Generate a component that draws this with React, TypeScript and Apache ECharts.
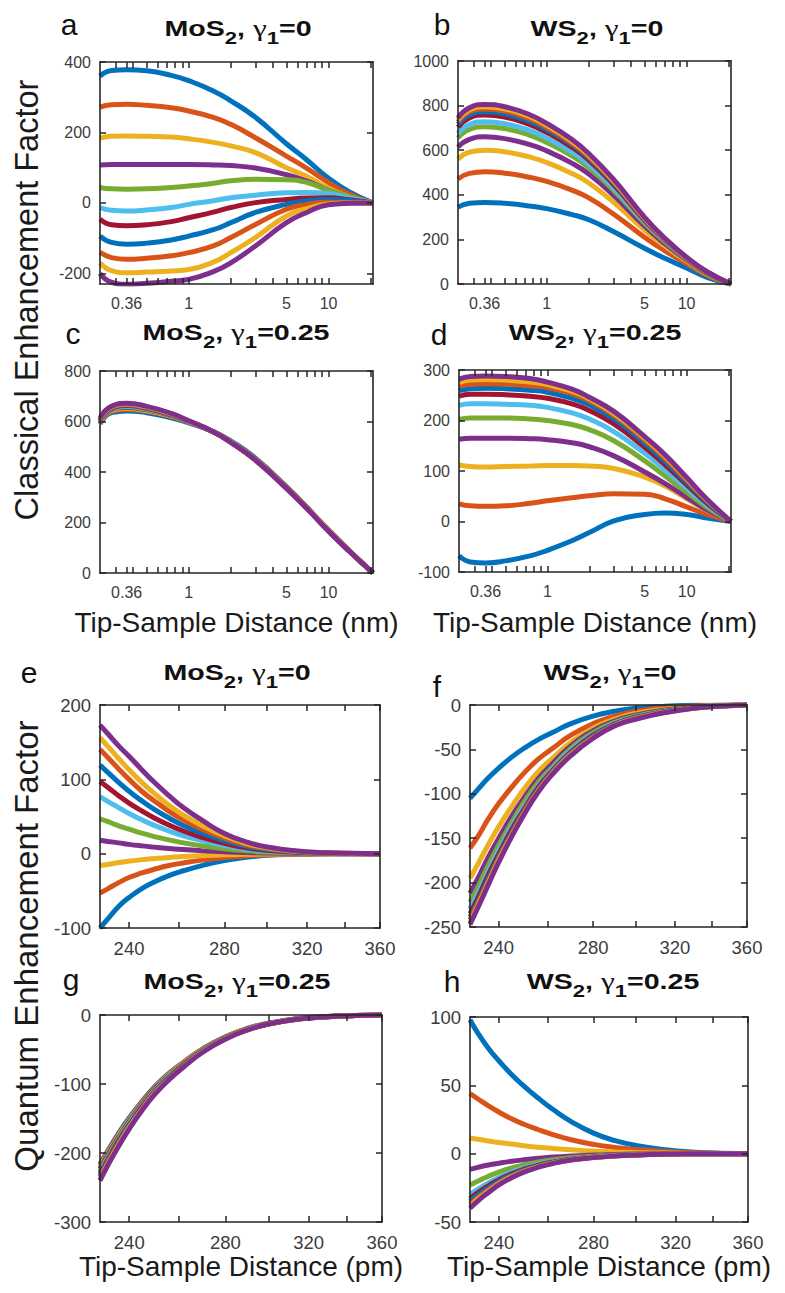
import React, { useEffect, useRef } from "react";
import * as echarts from "echarts";

// MATLAB default line colours, 11 curves per panel
const COLORS = ["#0072BD", "#D95319", "#EDB120", "#7E2F8E", "#77AC30", "#4DBEEE", "#A2142F", "#0072BD", "#D95319", "#EDB120", "#7E2F8E"];

// x samples (nm for classical, pm for quantum)
const CLASSICAL_X = [0.232, 0.28, 0.36, 0.5, 0.75, 1, 1.5, 2, 3, 5, 7, 10, 14, 20.8];
const QUANTUM_X = [229, 232, 236, 240, 245, 250, 256, 262, 270, 280, 290, 300, 315, 330, 345, 360];

const CLASSICAL_X_TICKS = [0.3, 0.36, 0.4, 0.5, 0.6, 0.7, 0.8, 0.9, 1, 2, 3, 4, 5, 6, 7, 8, 9, 10, 20];
const CLASSICAL_X_LABELS = [0.36, 1, 5, 10];
const QUANTUM_X_TICKS = [240, 260, 280, 300, 320, 340, 360];
const QUANTUM_X_LABELS = [240, 280, 320, 360];

// (a) MoS2, gamma1 = 0, classical
const CLASSICAL_MOS2_G0 = [
  [360, 376, 378, 375, 362, 347, 318, 290, 243, 168, 122, 70, 32, 0],
  [272, 279, 280, 277, 270, 261, 243, 223, 185, 133, 98, 58, 25, 0],
  [184, 189, 190, 189, 187, 182, 172, 162, 143, 100, 75, 42, 18, 0],
  [108, 109, 109, 109, 109, 109, 108, 106, 99, 80, 62, 36, 16, 0],
  [44, 40, 39, 40, 44, 48, 56, 63, 67, 66, 58, 36, 18, 0],
  [-13, -21, -23, -20, -13, -4, 6, 15, 22, 29, 30, 27, 14, 0],
  [-46, -62, -65, -62, -53, -42, -26, -13, 1, 10, 14, 15, 9, 0],
  [-94, -112, -117, -114, -105, -94, -76, -56, -27, -4, 6, 10, 6, 0],
  [-140, -155, -160, -157, -150, -141, -122, -98, -61, -18, -4, 2, 1, 0],
  [-170, -192, -198, -196, -193, -189, -168, -141, -98, -37, -16, -3, 0, 0],
  [-200, -225, -231, -228, -222, -217, -195, -170, -122, -56, -27, -5, -1, 0],
];

// (b) WS2, gamma1 = 0, classical
const CLASSICAL_WS2_G0 = [
  [345, 362, 366, 362, 350, 338, 312, 288, 235, 160, 115, 72, 30, 0],
  [471, 496, 503, 497, 479, 460, 422, 386, 314, 210, 149, 92, 39, 0],
  [560, 591, 600, 593, 570, 545, 497, 453, 367, 242, 170, 103, 45, 0],
  [614, 649, 660, 652, 626, 597, 543, 493, 398, 260, 181, 109, 48, 0],
  [655, 693, 705, 697, 668, 635, 576, 522, 421, 274, 190, 113, 50, 0],
  [676, 715, 728, 719, 689, 654, 593, 537, 432, 280, 194, 115, 52, 0],
  [703, 744, 758, 749, 716, 680, 615, 556, 447, 287, 198, 117, 52, 0],
  [716, 758, 772, 763, 729, 692, 627, 566, 455, 292, 201, 119, 53, 0],
  [727, 771, 785, 776, 741, 702, 634, 571, 459, 293, 201, 118, 54, 0],
  [736, 780, 795, 786, 751, 711, 642, 578, 464, 297, 203, 119, 54, 0],
  [745, 790, 805, 795, 760, 720, 650, 585, 470, 300, 205, 120, 55, 0],
];

// (c) MoS2, gamma1 = 0.25, classical
const CLASSICAL_MOS2_G025 = [
  [590, 635, 642, 635, 615, 595, 560, 523, 455, 342, 260, 170, 90, 0],
  [595, 640, 648, 640, 619, 597, 560, 521, 452, 340, 259, 169, 89, 0],
  [598, 643, 652, 643, 621, 598, 559, 520, 451, 339, 258, 169, 89, 0],
  [600, 646, 655, 646, 623, 599, 559, 519, 450, 338, 258, 168, 89, 0],
  [602, 648, 658, 648, 625, 600, 559, 519, 450, 338, 257, 168, 88, 0],
  [604, 650, 660, 650, 626, 600, 559, 519, 449, 337, 257, 168, 88, 0],
  [606, 652, 663, 652, 627, 601, 559, 518, 449, 337, 257, 167, 88, 0],
  [608, 654, 665, 654, 628, 601, 559, 518, 448, 336, 256, 167, 88, 0],
  [610, 656, 667, 656, 629, 602, 559, 518, 448, 336, 256, 167, 88, 0],
  [612, 658, 670, 658, 631, 602, 559, 517, 447, 335, 256, 167, 87, 0],
  [614, 660, 672, 660, 632, 603, 559, 517, 447, 335, 255, 166, 87, 0],
];

// (d) WS2, gamma1 = 0.25, classical
const CLASSICAL_WS2_G025 = [
  [-68, -80, -82, -78, -68, -57, -38, -22, 1, 14, 17, 14, 7, 0],
  [35, 31, 30, 31, 36, 41, 47, 51, 55, 54, 45, 29, 14, 0],
  [112, 109, 108, 109, 110, 111, 111, 110, 105, 88, 70, 45, 22, 0],
  [163, 165, 165, 165, 164, 162, 156, 148, 130, 98, 75, 48, 23, 0],
  [202, 205, 205, 205, 203, 200, 192, 182, 160, 120, 90, 58, 28, 0],
  [230, 233, 233, 232, 230, 226, 215, 203, 178, 135, 102, 66, 32, 0],
  [248, 252, 252, 251, 248, 244, 233, 220, 193, 147, 112, 73, 36, 0],
  [259, 263, 264, 263, 260, 256, 244, 231, 203, 155, 119, 78, 39, 0],
  [268, 272, 273, 272, 269, 265, 253, 239, 210, 161, 125, 82, 41, 0],
  [275, 280, 281, 280, 276, 271, 258, 243, 214, 165, 129, 85, 43, 0],
  [282, 287, 288, 287, 283, 276, 262, 246, 218, 168, 132, 87, 44, 0],
];

// (e) MoS2, gamma1 = 0, quantum
const QUANTUM_MOS2_G0 = [
  [-100, -87.5, -71, -59, -47, -38, -29.5, -23, -16, -9.4, -5, -2.2, -0.9, -0.3, 0, 0],
  [-53, -47, -39, -32, -26, -21, -16, -12.5, -8.7, -5.2, -2.8, -1.3, -0.5, -0.2, 0, 0],
  [-16, -14.5, -12, -10, -8, -6.5, -5, -3.9, -2.7, -1.6, -0.9, -0.4, -0.2, 0, 0, 0],
  [18, 16.5, 14.5, 12.5, 10.5, 8.8, 7, 5.5, 4, 2.5, 1.4, 0.8, 0.3, 0.1, 0, 0],
  [47, 43, 37.5, 33, 27.5, 23, 18.5, 14.5, 10.5, 6.5, 3.8, 2.1, 0.8, 0.3, 0.1, 0],
  [77, 70, 62, 54, 45.5, 38, 30.5, 24, 17.5, 11, 6.3, 3.6, 1.4, 0.5, 0.2, 0],
  [97, 89, 78, 68, 57.5, 48, 38.5, 30.5, 22, 14, 8, 4.6, 1.8, 0.6, 0.2, 0],
  [119, 109, 96, 84, 71, 59.5, 48, 38, 27.5, 17.5, 10, 5.8, 2.3, 0.8, 0.2, 0],
  [140, 129, 114, 100, 84, 71, 57, 45.5, 33, 21, 12, 7, 2.8, 1, 0.3, 0],
  [156, 144, 128, 113, 96, 81, 65, 52, 38, 24, 14, 8, 3.2, 1.1, 0.3, 0],
  [173, 161, 145, 131, 113, 96, 78, 62, 45, 27, 16, 9, 3.6, 1.2, 0.4, 0],
];

// (f) WS2, gamma1 = 0, quantum
const QUANTUM_WS2_G0 = [
  [-105, -95, -82, -71, -59, -49, -39, -31, -21, -12.5, -7, -3.6, -1.3, -0.4, -0.1, 0],
  [-161, -148, -128, -111, -93, -77, -61, -49, -34, -21, -12.5, -7.2, -3, -1.1, -0.3, 0],
  [-195, -179, -157, -137, -115, -95, -75, -60, -42, -26, -16, -9.6, -4.7, -2, -0.6, 0],
  [-212, -195, -171, -150, -126, -105, -83, -66, -46, -29, -18, -11.5, -5.7, -2.5, -0.8, 0],
  [-222, -205, -180, -158, -133, -110, -87, -70, -49, -31, -19.5, -12.5, -6.5, -2.8, -0.9, 0],
  [-230, -212, -187, -164, -138, -115, -91, -72, -51, -33, -20.5, -13.5, -7, -3, -1, 0],
  [-235, -217, -191, -168, -141, -118, -93, -74, -53, -34, -21.5, -14, -7.3, -3.2, -1, 0],
  [-239, -221, -195, -171, -144, -120, -95, -75, -54, -35, -22, -14.5, -7.6, -3.3, -1.1, 0],
  [-242, -223, -198, -173, -146, -121, -96, -76, -55, -36, -22.5, -15, -8, -3.5, -1.1, 0],
  [-245, -226, -200, -175, -148, -123, -97, -77, -56, -37, -23, -15.5, -8.2, -3.6, -1.2, 0],
  [-247, -228, -202, -177, -149, -124, -98, -78, -57, -37.5, -23.5, -16, -8.5, -3.6, -1.2, 0],
];

// (g) MoS2, gamma1 = 0.25, quantum
const QUANTUM_MOS2_G025 = [
  [-216, -196, -171, -149, -125, -104, -84, -68, -49, -31.5, -19.5, -12, -5.2, -2.2, -0.7, 0],
  [-218, -198, -173, -151, -126, -105, -85, -68, -49.5, -32, -19.8, -12.2, -5.3, -2.2, -0.7, 0],
  [-221, -200, -175, -152, -128, -106, -86, -69, -50, -32.3, -20, -12.3, -5.3, -2.3, -0.7, 0],
  [-223, -202, -177, -154, -129, -107, -87, -70, -50.5, -32.6, -20.3, -12.4, -5.4, -2.3, -0.7, 0],
  [-226, -205, -179, -156, -131, -109, -88, -71, -51, -33, -20.5, -12.6, -5.5, -2.3, -0.8, 0],
  [-228, -207, -181, -157, -132, -110, -89, -71.5, -51.5, -33.3, -20.7, -12.7, -5.5, -2.4, -0.8, 0],
  [-230, -209, -182, -159, -133, -111, -90, -72, -52, -33.6, -21, -12.8, -5.6, -2.4, -0.8, 0],
  [-233, -211, -184, -160, -135, -112, -91, -73, -52.5, -34, -21.2, -13, -5.6, -2.4, -0.8, 0],
  [-235, -213, -186, -162, -136, -113, -92, -74, -53, -34.3, -21.4, -13.1, -5.7, -2.4, -0.8, 0],
  [-238, -215, -188, -163, -137, -114, -93, -74.5, -53.5, -34.6, -21.6, -13.2, -5.7, -2.5, -0.8, 0],
  [-240, -217, -190, -165, -138, -115, -93, -75, -54, -35, -21.8, -13.3, -5.8, -2.5, -0.8, 0],
];

// (h) WS2, gamma1 = 0.25, quantum
const QUANTUM_WS2_G025 = [
  [98, 88, 77, 68, 58, 49.5, 40.5, 32.5, 23.5, 15, 9.5, 6, 2.8, 1.1, 0.3, 0],
  [44, 40, 35, 30.5, 25.5, 21.5, 17.5, 14, 10.2, 6.8, 4.5, 3, 1.5, 0.6, 0.2, 0],
  [11.5, 10.5, 9.2, 8.2, 7, 5.8, 4.7, 3.8, 2.8, 1.8, 1.2, 0.8, 0.4, 0.1, 0, 0],
  [-11.5, -10, -8.3, -7, -5.6, -4.5, -3.4, -2.5, -1.7, -1, -0.6, -0.3, -0.1, 0, 0, 0],
  [-23, -20, -16.5, -13.5, -10.5, -8.2, -6, -4.5, -3, -1.8, -1.1, -0.6, -0.2, 0, 0, 0],
  [-30, -26, -21.5, -17.5, -13.5, -10.5, -7.7, -5.7, -3.8, -2.3, -1.3, -0.8, -0.3, -0.1, 0, 0],
  [-33, -28.5, -23.5, -19, -14.7, -11.4, -8.4, -6.2, -4.1, -2.5, -1.4, -0.8, -0.3, -0.1, 0, 0],
  [-35, -30.2, -25, -20.2, -15.6, -12, -8.9, -6.5, -4.3, -2.6, -1.5, -0.9, -0.3, -0.1, 0, 0],
  [-37, -32, -26.4, -21.3, -16.4, -12.6, -9.3, -6.8, -4.5, -2.7, -1.6, -0.9, -0.4, -0.1, 0, 0],
  [-38.5, -33.3, -27.4, -22.1, -17, -13.1, -9.6, -7, -4.6, -2.8, -1.6, -0.9, -0.4, -0.1, 0, 0],
  [-40, -34.5, -28.4, -22.9, -17.6, -13.5, -9.9, -7.2, -4.7, -2.9, -1.7, -1, -0.4, -0.1, 0, 0],
];

const AXIS_COLOR = "#262626";
const LABEL_COLOR = "#3c3c3c";
const FONT = "Liberation Sans";

type Panel = {
  letter: string;
  material: string;
  gamma: string;
  grid: { left: number; top: number; width: number; height: number };
  xs: number[];
  ys: number[][];
  xTicks: number[];
  xLabels: number[];
  yMin: number;
  yMax: number;
  yTicks: number[];
  labelSize: number;
  xName: string;
  nameGap: number;
  letterPos: [number, number];
  titlePos: [number, number];
};

const PANELS: Panel[] = [
  { letter: "a", material: "MoS", gamma: "0", grid: { left: 100, top: 62, width: 273, height: 222 }, xs: CLASSICAL_X, ys: CLASSICAL_MOS2_G0, xTicks: CLASSICAL_X_TICKS, xLabels: CLASSICAL_X_LABELS, yMin: -230, yMax: 400, yTicks: [-200, 0, 200, 400], labelSize: 16, xName: "", nameGap: 0, letterPos: [69, 24], titlePos: [238, 28] },
  { letter: "b", material: "WS", gamma: "0", grid: { left: 458, top: 61, width: 273, height: 223 }, xs: CLASSICAL_X, ys: CLASSICAL_WS2_G0, xTicks: CLASSICAL_X_TICKS, xLabels: CLASSICAL_X_LABELS, yMin: 0, yMax: 1000, yTicks: [0, 200, 400, 600, 800, 1000], labelSize: 16, xName: "", nameGap: 0, letterPos: [442, 24], titlePos: [597, 28] },
  { letter: "c", material: "MoS", gamma: "0.25", grid: { left: 100, top: 371, width: 273, height: 202 }, xs: CLASSICAL_X, ys: CLASSICAL_MOS2_G025, xTicks: CLASSICAL_X_TICKS, xLabels: CLASSICAL_X_LABELS, yMin: 0, yMax: 800, yTicks: [0, 200, 400, 600, 800], labelSize: 16, xName: "Tip-Sample Distance (nm)", nameGap: 35, letterPos: [73, 333], titlePos: [236, 332] },
  { letter: "d", material: "WS", gamma: "0.25", grid: { left: 459, top: 370, width: 272, height: 202 }, xs: CLASSICAL_X, ys: CLASSICAL_WS2_G025, xTicks: CLASSICAL_X_TICKS, xLabels: CLASSICAL_X_LABELS, yMin: -100, yMax: 300, yTicks: [-100, 0, 100, 200, 300], labelSize: 16, xName: "Tip-Sample Distance (nm)", nameGap: 36, letterPos: [439, 334], titlePos: [595, 332] },
  { letter: "e", material: "MoS", gamma: "0", grid: { left: 100, top: 705, width: 280, height: 223 }, xs: QUANTUM_X, ys: QUANTUM_MOS2_G0, xTicks: QUANTUM_X_TICKS, xLabels: QUANTUM_X_LABELS, yMin: -100, yMax: 200, yTicks: [-100, 0, 100, 200], labelSize: 18.5, xName: "", nameGap: 0, letterPos: [29, 672], titlePos: [237, 672] },
  { letter: "f", material: "WS", gamma: "0", grid: { left: 470, top: 705, width: 277, height: 222 }, xs: QUANTUM_X, ys: QUANTUM_WS2_G0, xTicks: QUANTUM_X_TICKS, xLabels: QUANTUM_X_LABELS, yMin: -250, yMax: 0, yTicks: [-250, -200, -150, -100, -50, 0], labelSize: 18.5, xName: "", nameGap: 0, letterPos: [437, 686], titlePos: [610, 672] },
  { letter: "g", material: "MoS", gamma: "0.25", grid: { left: 100, top: 1015, width: 282, height: 207 }, xs: QUANTUM_X, ys: QUANTUM_MOS2_G025, xTicks: QUANTUM_X_TICKS, xLabels: QUANTUM_X_LABELS, yMin: -300, yMax: 0, yTicks: [-300, -200, -100, 0], labelSize: 18.5, xName: "Tip-Sample Distance (pm)", nameGap: 24, letterPos: [71, 979], titlePos: [237, 981] },
  { letter: "h", material: "WS", gamma: "0.25", grid: { left: 470, top: 1017, width: 278, height: 205 }, xs: QUANTUM_X, ys: QUANTUM_WS2_G025, xTicks: QUANTUM_X_TICKS, xLabels: QUANTUM_X_LABELS, yMin: -50, yMax: 100, yTicks: [-50, 0, 50, 100], labelSize: 18.5, xName: "Tip-Sample Distance (pm)", nameGap: 24, letterPos: [452, 981], titlePos: [613, 981] },
];

const fmt = (v: number) => String(+Number(v).toPrecision(3));

function buildOption() {
  const grid: any[] = [];
  const xAxis: any[] = [];
  const yAxis: any[] = [];
  const series: any[] = [];
  const graphic: any[] = [];

  PANELS.forEach((p, i) => {
    grid.push({ ...p.grid, outerBoundsMode: "none", containLabel: false });
    const xMin = p.xs[0];
    const xMax = p.xs[p.xs.length - 1];
    const tickStyle = { show: true, inside: true, length: 6, lineStyle: { color: AXIS_COLOR, width: 1.5 } };
    const lineStyle = { show: true, onZero: false, lineStyle: { color: AXIS_COLOR, width: 1.6 } };
    const labelStyle = { color: LABEL_COLOR, fontSize: p.labelSize, fontFamily: FONT };
    xAxis.push({
      type: "log", logBase: 10, gridIndex: i, position: "bottom", min: xMin, max: xMax,
      axisLine: lineStyle,
      axisTick: { ...tickStyle, customValues: p.xTicks },
      axisLabel: { ...labelStyle, show: true, customValues: p.xLabels, margin: 11, formatter: (v: number) => fmt(v) },
      splitLine: { show: false }, minorTick: { show: false }, minorSplitLine: { show: false },
      name: p.xName, nameLocation: "middle", nameGap: p.nameGap,
      nameTextStyle: { fontSize: 28, fontFamily: FONT, color: "#1a1a1a" },
      z: 5,
    });
    xAxis.push({
      type: "log", logBase: 10, gridIndex: i, position: "top", min: xMin, max: xMax,
      axisLine: lineStyle,
      axisTick: { ...tickStyle, customValues: p.xTicks },
      axisLabel: { show: false },
      splitLine: { show: false },
      z: 5,
    });
    yAxis.push({
      type: "value", gridIndex: i, position: "left", min: p.yMin, max: p.yMax,
      axisLine: lineStyle,
      axisTick: { ...tickStyle, customValues: p.yTicks },
      axisLabel: { ...labelStyle, show: true, customValues: p.yTicks, margin: 9, formatter: (v: number) => String(v) },
      splitLine: { show: false },
      z: 5,
    });
    yAxis.push({
      type: "value", gridIndex: i, position: "right", min: p.yMin, max: p.yMax,
      axisLine: lineStyle,
      axisTick: { ...tickStyle, customValues: p.yTicks },
      axisLabel: { show: false },
      splitLine: { show: false },
      z: 5,
    });

    p.ys.forEach((ys, j) => {
      series.push({
        type: "line",
        xAxisIndex: 2 * i,
        yAxisIndex: 2 * i,
        data: p.xs.map((x, k) => [x, ys[k]]),
        smooth: 0.5,
        symbol: "none",
        showSymbol: false,
        clip: true,
        silent: true,
        z: 2,
        lineStyle: { width: 5, color: COLORS[j] },
        itemStyle: { color: COLORS[j] },
      });
    });

    graphic.push({
      type: "text", x: p.letterPos[0], y: p.letterPos[1], silent: true,
      style: { text: p.letter, fontSize: 30, fontFamily: FONT, fill: "#111", align: "center", verticalAlign: "middle" },
    });
    graphic.push({
      type: "text", x: p.titlePos[0], y: p.titlePos[1], scaleX: 1.3, silent: true,
      style: {
        text: `{b|${p.material}}{s|2}{b|, }{g|γ}{s|1}{b|=${p.gamma}}`,
        align: "center", verticalAlign: "middle",
        rich: {
          b: { fontSize: 22, fontWeight: "bold", fontFamily: FONT, fill: "#111" },
          s: { fontSize: 17, fontWeight: "bold", fontFamily: FONT, fill: "#111", padding: [20, 0, 0, 0] },
          g: { fontSize: 24, fontFamily: "Liberation Serif", fill: "#111" },
        },
      },
    });
  });

  graphic.push({
    type: "text", x: 27, y: 300, rotation: Math.PI / 2, silent: true,
    style: { text: "Classical Enhancement Factor", fontSize: 32.5, fontFamily: FONT, fill: "#1a1a1a", align: "center", verticalAlign: "middle" },
  });
  graphic.push({
    type: "text", x: 26, y: 946, rotation: Math.PI / 2, silent: true,
    style: { text: "Quantum Enhancement Factor", fontSize: 33, fontFamily: FONT, fill: "#1a1a1a", align: "center", verticalAlign: "middle" },
  });

  return {
    animation: false,
    backgroundColor: "#ffffff",
    grid,
    xAxis,
    yAxis,
    series,
    graphic,
  };
}

export default function App() {
  const ref = useRef<HTMLDivElement>(null);
  useEffect(() => {
    if (!ref.current) return;
    const chart = echarts.init(ref.current, undefined, { renderer: "svg" });
    chart.setOption(buildOption() as any);
    return () => chart.dispose();
  }, []);
  return <div ref={ref} style={{ position: "absolute", left: 0, top: 0, width: 785, height: 1293 }} />;
}
